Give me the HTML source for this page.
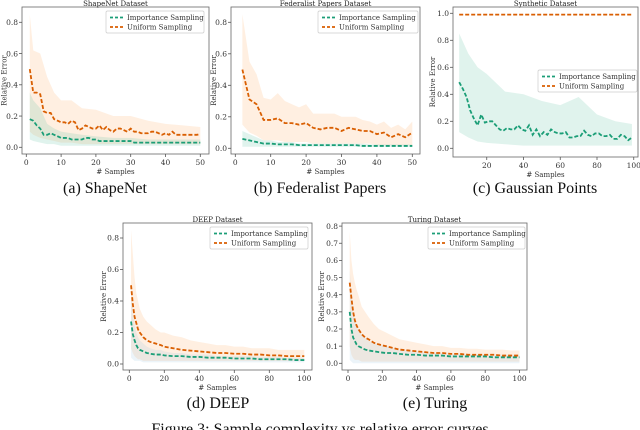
<!DOCTYPE html>
<html><head><meta charset="utf-8"><style>
body{margin:0;background:#fff;width:640px;height:430px;overflow:hidden}
svg{display:block}
.tk{font:7.5px "DejaVu Serif",serif;fill:#333}
.yt{font:7px "DejaVu Serif",serif;fill:#333}
.tt{font:7px "DejaVu Serif",serif;fill:#222}
.lg{font:7px "DejaVu Serif",serif;fill:#333}
.cap{font:16px "Liberation Serif",serif;fill:#111}
</style></head><body>
<svg id="fig" width="640" height="430" xmlns="http://www.w3.org/2000/svg">
<text class="cap" x="105" y="193" text-anchor="middle">(a) ShapeNet</text>
<text class="cap" x="320" y="193" text-anchor="middle">(b) Federalist Papers</text>
<text class="cap" x="535" y="193" text-anchor="middle">(c) Gaussian Points</text>
<text class="cap" x="218" y="408" text-anchor="middle">(d) DEEP</text>
<text class="cap" x="435" y="408" text-anchor="middle">(e) Turing</text>
<text class="cap" x="320" y="434" text-anchor="middle">Figure 3: Sample complexity vs relative error curves</text>
</svg>
<script>
// ShapeNet
const aX=[1,2,3,4,5,6,7,8,9,10,11,12,13,14,15,16,17,18,19,20,21,22,23,24,25,26,27,28,29,30,31,32,33,34,35,36,37,38,39,40,41,42,43,44,45,46,47,48,49,50];
const aUni=[0.5,0.35,0.35,0.34,0.23,0.22,0.22,0.18,0.17,0.16,0.16,0.15,0.17,0.16,0.11,0.12,0.14,0.13,0.12,0.12,0.14,0.11,0.13,0.11,0.1,0.12,0.12,0.11,0.1,0.12,0.1,0.1,0.09,0.09,0.09,0.1,0.1,0.09,0.08,0.09,0.08,0.1,0.08,0.08,0.08,0.08,0.08,0.08,0.08,0.085];
const aImp=[0.18,0.17,0.14,0.12,0.08,0.08,0.09,0.08,0.07,0.06,0.06,0.06,0.05,0.05,0.05,0.05,0.06,0.06,0.05,0.05,0.04,0.04,0.04,0.04,0.04,0.04,0.04,0.04,0.04,0.04,0.03,0.03,0.03,0.03,0.03,0.03,0.03,0.03,0.03,0.03,0.03,0.03,0.03,0.03,0.03,0.03,0.03,0.03,0.03,0.03];
const aBX=[1,2,4,6,8,10,13,16,20,25,30,35,40,45,50];
const aUniHi=[0.85,0.62,0.6,0.45,0.35,0.3,0.3,0.25,0.24,0.2,0.2,0.17,0.15,0.14,0.13];
const aUniLo=[0.1,0.08,0.06,0.05,0.04,0.03,0.03,0.02,0.02,0.02,0.02,0.02,0.02,0.02,0.02];
const aImpHi=[0.35,0.3,0.25,0.15,0.12,0.1,0.09,0.08,0.07,0.06,0.06,0.05,0.05,0.05,0.05];
const aImpLo=[0.05,0.04,0.03,0.02,0.02,0.01,0.01,0.01,0.01,0.01,0.01,0.01,0.01,0.01,0.01];
// Federalist
const bX=[2,4,6,8,10,12,14,16,18,20,22,24,26,28,30,32,34,36,38,40,42,44,46,48,50];
const bUni=[0.5,0.31,0.28,0.18,0.18,0.19,0.16,0.16,0.15,0.16,0.13,0.12,0.13,0.13,0.11,0.13,0.12,0.11,0.11,0.09,0.1,0.07,0.09,0.07,0.1];
const bImp=[0.06,0.05,0.04,0.03,0.03,0.025,0.025,0.025,0.02,0.02,0.02,0.02,0.02,0.02,0.02,0.02,0.02,0.015,0.015,0.015,0.015,0.015,0.015,0.015,0.015];
const bUniHi=[0.85,0.55,0.47,0.32,0.31,0.35,0.3,0.28,0.26,0.28,0.22,0.22,0.22,0.22,0.2,0.2,0.2,0.18,0.17,0.15,0.17,0.13,0.15,0.12,0.17];
const bUniLo=[0.15,0.1,0.08,0.05,0.05,0.05,0.04,0.04,0.04,0.04,0.03,0.03,0.03,0.03,0.03,0.03,0.03,0.03,0.03,0.02,0.02,0.02,0.02,0.02,0.02];
const bImpHi=[0.11,0.09,0.07,0.05,0.05,0.04,0.04,0.04,0.03,0.03,0.03,0.03,0.03,0.03,0.03,0.03,0.03,0.03,0.025,0.025,0.025,0.025,0.025,0.025,0.025];
const bImpLo=[0.01,0.01,0.01,0.01,0.01,0.01,0.01,0.01,0.01,0.01,0.01,0.01,0.01,0.01,0.01,0.01,0.01,0.01,0.01,0.01,0.01,0.01,0.01,0.01,0.01];
// Synthetic
const cX=[5,7,9,11,13,15,17,19,21,23,25,27,29,31,33,35,37,39,41,43,45,47,49,51,53,55,57,59,61,63,65,67,69,71,73,75,77,79,81,83,85,87,89,91,93,95,97,99];
const cUni=[0.99,0.99,0.99,0.99,0.99,0.99,0.99,0.99,0.99,0.99,0.99,0.99,0.99,0.99,0.99,0.99,0.99,0.99,0.99,0.99,0.99,0.99,0.99,0.99,0.99,0.99,0.99,0.99,0.99,0.99,0.99,0.99,0.99,0.99,0.99,0.99,0.99,0.99,0.99,0.99,0.99,0.99,0.99,0.99,0.99,0.99,0.99,0.99];
const cImp=[0.49,0.44,0.38,0.28,0.22,0.17,0.25,0.19,0.2,0.2,0.17,0.14,0.13,0.15,0.14,0.14,0.17,0.14,0.13,0.17,0.1,0.14,0.09,0.12,0.1,0.14,0.12,0.11,0.11,0.12,0.08,0.08,0.09,0.09,0.13,0.1,0.09,0.11,0.11,0.09,0.09,0.1,0.07,0.07,0.1,0.09,0.06,0.08];
const cBX=[5,10,15,20,30,40,50,60,70,80,90,99];
const cImpHi=[0.85,0.7,0.6,0.55,0.42,0.4,0.35,0.32,0.38,0.25,0.2,0.18];
const cImpLo=[0.12,0.08,0.05,0.04,0.03,0.02,0.02,0.02,0.02,0.02,0.02,0.02];
// DEEP
const dX=[1,2,3,4,5,6,8,10,12,15,18,20,25,30,35,40,45,50,55,60,65,70,75,80,85,90,95,100];
const dUni=[0.5,0.38,0.3,0.26,0.22,0.2,0.17,0.15,0.14,0.13,0.12,0.11,0.1,0.09,0.085,0.08,0.075,0.07,0.07,0.065,0.065,0.06,0.06,0.055,0.055,0.05,0.05,0.05];
const dImp=[0.27,0.19,0.15,0.12,0.1,0.09,0.08,0.07,0.065,0.06,0.06,0.055,0.05,0.05,0.045,0.045,0.04,0.04,0.04,0.035,0.035,0.035,0.03,0.03,0.03,0.03,0.025,0.025];
const dUniHi=[0.85,0.7,0.55,0.45,0.4,0.35,0.3,0.27,0.25,0.22,0.2,0.2,0.18,0.17,0.15,0.14,0.13,0.12,0.12,0.11,0.11,0.1,0.1,0.1,0.09,0.09,0.09,0.09];
const dUniLo=[0.1,0.07,0.05,0.04,0.03,0.03,0.02,0.02,0.02,0.02,0.02,0.02,0.02,0.02,0.02,0.02,0.02,0.02,0.02,0.02,0.02,0.02,0.02,0.02,0.02,0.02,0.02,0.02];
const dImpHi=[0.45,0.32,0.25,0.2,0.17,0.15,0.13,0.11,0.1,0.09,0.09,0.08,0.07,0.07,0.06,0.06,0.06,0.05,0.05,0.05,0.05,0.05,0.045,0.045,0.045,0.04,0.04,0.04];
const dImpLo=[0.04,0.03,0.02,0.02,0.02,0.02,0.01,0.01,0.01,0.01,0.01,0.01,0.01,0.01,0.01,0.01,0.01,0.01,0.01,0.01,0.01,0.01,0.01,0.01,0.01,0.01,0.01,0.01];
// Turing
const eX=[1,2,3,4,5,6,8,10,12,15,18,22,26,30,35,40,45,50,55,60,65,70,75,80,85,90,95,100];
const eUni=[0.47,0.38,0.3,0.25,0.22,0.2,0.17,0.15,0.14,0.12,0.11,0.1,0.09,0.08,0.075,0.07,0.065,0.06,0.06,0.055,0.055,0.05,0.05,0.05,0.05,0.045,0.045,0.045];
const eImp=[0.3,0.2,0.15,0.13,0.11,0.1,0.09,0.08,0.075,0.07,0.065,0.06,0.06,0.055,0.05,0.05,0.045,0.045,0.045,0.04,0.04,0.04,0.04,0.04,0.035,0.035,0.035,0.035];
const eUniHi=[0.77,0.6,0.52,0.47,0.43,0.4,0.33,0.3,0.27,0.23,0.2,0.18,0.16,0.14,0.13,0.12,0.11,0.1,0.1,0.09,0.09,0.085,0.085,0.08,0.08,0.08,0.075,0.075];
const eUniLo=[0.1,0.05,0.03,0.02,0.02,0.02,0.01,0.01,0.01,0.01,0.01,0.01,0.01,0.01,0.01,0.01,0.01,0.01,0.01,0.01,0.01,0.01,0.01,0.01,0.01,0.01,0.01,0.01];
const eImpHi=[0.55,0.4,0.3,0.25,0.22,0.2,0.17,0.15,0.13,0.12,0.11,0.1,0.09,0.08,0.075,0.07,0.065,0.06,0.06,0.055,0.055,0.05,0.05,0.05,0.05,0.05,0.05,0.05];
const eImpLo=[0.02,0.01,0.0,0.0,0.0,0.0,0.0,0.0,0.0,0.0,0.0,0.0,0.0,0.0,0.0,0.0,0.0,0.0,0.0,0.0,0.0,0.0,0.0,0.0,0.0,0.0,0.0,0.0];

const GREEN="#1b9e77",ORANGE="#d95f02";
const NS="http://www.w3.org/2000/svg";
const svg=document.getElementById('fig');
function mk(tag,attrs,parent){const e=document.createElementNS(NS,tag);for(const k in attrs)e.setAttribute(k,attrs[k]);(parent||svg).appendChild(e);return e;}

function panel(p){
  const g=mk('g',{});
  
  
  const sx=v=>p.x0+p.kx*v, sy=v=>p.y0-p.ky*v;
  function band(xs,lo,hi,col,name){
    let d='M'+xs.map((x,i)=>sx(x)+','+sy(hi[i])).join('L');
    for(let i=xs.length-1;i>=0;i--)d+='L'+sx(xs[i])+','+sy(lo[i]);
    const b=mk('path',{d:d+'Z',fill:col,'fill-opacity':0.2,stroke:'none'},g);
    
    
  }
  function line(xs,ys,col,name){
    const l=mk('polyline',{points:xs.map((x,i)=>sx(x)+','+sy(ys[i])).join(' '),fill:'none',stroke:col,'stroke-width':1.8,'stroke-dasharray':'4,2'},g);
    
    
  }
  p.bands.forEach(b=>band(b[0],b[1],b[2],b[3],b[4]));
  p.lines.forEach(l=>line(l[0],l[1],l[2],l[3]));
  const box=mk('rect',{x:p.box[0],y:p.box[1],width:p.box[2]-p.box[0],height:p.box[3]-p.box[1],fill:'none',stroke:'#666','stroke-width':0.8},g);
  
  
  p.xt.forEach(v=>{
    mk('line',{x1:sx(v),x2:sx(v),y1:p.box[3],y2:p.box[3]+3,stroke:'#555','stroke-width':0.8},g);
    const t=mk('text',{x:sx(v),y:p.box[3]+11,'text-anchor':'middle',class:'tk'},g);t.textContent=p.xf(v);
    
    
  });
  p.yt.forEach(v=>{
    mk('line',{x1:p.box[0]-3,x2:p.box[0],y1:sy(v),y2:sy(v),stroke:'#555','stroke-width':0.8},g);
    const t=mk('text',{x:p.box[0]-4,y:sy(v)+2.7,'text-anchor':'end',class:'tk'},g);t.textContent=v.toFixed(1);
    
    
  });
  const xl=mk('text',{x:(p.box[0]+p.box[2])/2,y:p.box[3]+20,'text-anchor':'middle',class:'yt'},g);xl.textContent='# Samples';
  
  
  const yl=mk('text',{x:0,y:0,'text-anchor':'middle',class:'yt',transform:`translate(${p.ylx},${(p.box[1]+p.box[3])/2}) rotate(-90)`},g);yl.textContent='Relative Error';
  
  
  const tt=mk('text',{x:(p.box[0]+p.box[2])/2,y:p.box[1]-1.2,'text-anchor':'middle',class:'tt'},g);tt.textContent=p.title;
  
  
  const L=p.leg;
  const lg=mk('g',{},g);
  
  
  mk('rect',{x:L[0],y:L[1],width:L[2],height:22,fill:'#fff','fill-opacity':0.85,stroke:'#ccc','stroke-width':0.7,rx:1.5},lg);
  [['Importance Sampling',GREEN],['Uniform Sampling',ORANGE]].forEach((e,i)=>{
    const yy=L[1]+6.5+i*9.5;
    mk('line',{x1:L[0]+4,x2:L[0]+17,y1:yy,y2:yy,stroke:e[1],'stroke-width':1.8,'stroke-dasharray':'3,2'},lg);
    const t=mk('text',{x:L[0]+21,y:yy+2.5,class:'lg'},lg);t.textContent=e[0];
    
    
  });
}
const oB='#fdae6b',gB='#66c2a4',bB='#9ecae1';
panel({id:'shapenet',title:'ShapeNet Dataset',box:[22,7,209,154],x0:26.3,kx:3.48,y0:147.3,ky:156.25,xt:[0,10,20,30,40,50],yt:[0,0.2,0.4,0.6,0.8],xf:v=>v,ylx:6.5,leg:[106,11,98],
  bands:[[aBX,aUniLo,aUniHi,oB,'uniform-band'],[aBX,aImpLo,aImpHi,gB,'importance-band']],lines:[[aX,aImp,GREEN,'importance-line'],[aX,aUni,ORANGE,'uniform-line']]});
panel({id:'federalist',title:'Federalist Papers Dataset',box:[231,7,420,154],x0:235.3,kx:3.54,y0:148.3,ky:157.5,xt:[0,10,20,30,40,50],yt:[0,0.2,0.4,0.6,0.8],xf:v=>v,ylx:216,leg:[318,11,100],
  bands:[[bX,bUniLo,bUniHi,oB,'uniform-band'],[bX,bImpLo,bImpHi,gB,'importance-band']],lines:[[bX,bImp,GREEN,'importance-line'],[bX,bUni,ORANGE,'uniform-line']]});
panel({id:'synthetic',title:'Synthetic Dataset',box:[453,7,638,157],x0:450,kx:1.8375,y0:148.3,ky:135,xt:[20,40,60,80,100],yt:[0,0.2,0.4,0.6,0.8,1.0],xf:v=>v,ylx:435,leg:[538,70,99],
  bands:[[cBX,cImpLo,cImpHi,gB,'importance-band']],lines:[[cX,cImp,GREEN,'importance-line'],[cX,cUni,ORANGE,'uniform-line']]});
panel({id:'deep',title:'DEEP Dataset',box:[123,223,312,370],x0:129.3,kx:1.75,y0:364,ky:157.5,xt:[0,20,40,60,80,100],yt:[0,0.2,0.4,0.6,0.8],xf:v=>v,ylx:106,leg:[210,227,98],
  bands:[[dX,dUniLo,dUniHi,oB,'uniform-band'],[dX,dImpLo,dImpHi,bB,'importance-band']],lines:[[dX,dImp,GREEN,'importance-line'],[dX,dUni,ORANGE,'uniform-line']]});
panel({id:'turing',title:'Turing Dataset',box:[342,223,527,370],x0:348,kx:1.715,y0:363.3,ky:171.5,xt:[0,20,40,60,80,100],yt:[0,0.1,0.2,0.3,0.4,0.5,0.6,0.7,0.8],xf:v=>v,ylx:324,leg:[428,227,97],
  bands:[[eX,eUniLo,eUniHi,oB,'uniform-band'],[eX,eImpLo,eImpHi,bB,'importance-band']],lines:[[eX,eImp,GREEN,'importance-line'],[eX,eUni,ORANGE,'uniform-line']]});
</script>
</body></html>
